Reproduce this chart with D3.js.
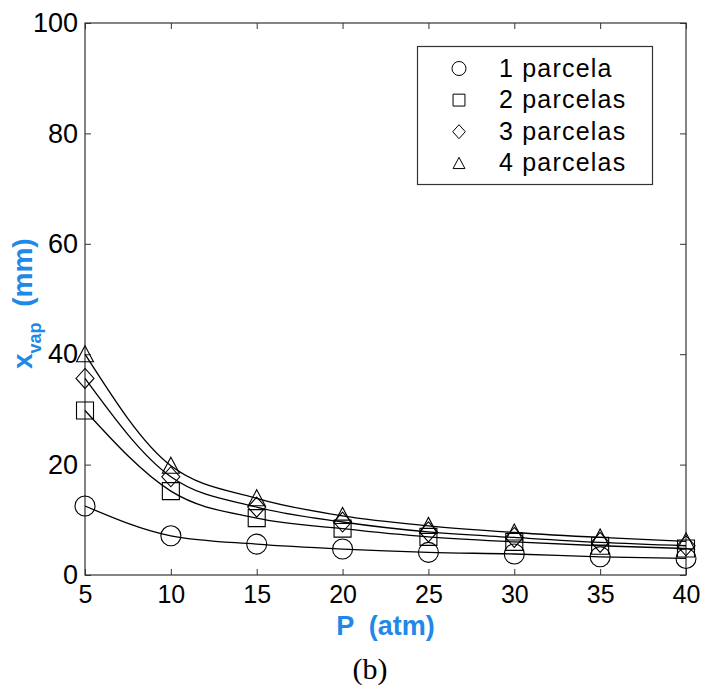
<!DOCTYPE html>
<html>
<head>
<meta charset="utf-8">
<script src="https://cdn.jsdelivr.net/npm/d3@7"></script>
<style>
    body { margin: 0; background: #fff; }
    svg text { font-family: "Liberation Sans", Arial, sans-serif; }
</style>
</head>
<body>
<div id="chart"></div>
<script>
// pressure values (atm)
const pressures = [5, 10, 15, 20, 25, 30, 35, 40];
// x_vap (mm) per number of parcels
const parcela1 = [12.5, 7.1, 5.6, 4.7, 4.1, 3.8, 3.3, 3.0];
const parcela2 = [29.8, 15.2, 10.3, 8.4, 6.9, 6.0, 5.3, 4.8];
const parcela3 = [35.6, 17.8, 12.3, 9.6, 7.8, 6.8, 5.9, 5.3];
const parcela4 = [40.0, 19.8, 13.9, 10.7, 8.9, 7.7, 6.8, 6.1];
const seriesNames = ["1 parcela", "2 parcelas", "3 parcelas", "4 parcelas"];
const markerTypes = ["circle", "square", "diamond", "triangle"];
const xTicks = [5, 10, 15, 20, 25, 30, 35, 40];
const yTicks = [0, 20, 40, 60, 80, 100];

const series = [parcela1, parcela2, parcela3, parcela4].map((vals, i) => ({
    name: seriesNames[i],
    marker: markerTypes[i],
    points: vals.map((v, j) => ({p: pressures[j], x: v}))
}));

const W = 705, H = 688;
const plot = {left: 85, right: 686, top: 23, bottom: 575};
const axisColor = "#333";
const blue = "#2088e8";

const svg = d3.select("#chart").append("svg")
    .attr("width", W)
    .attr("height", H);

const xScale = d3.scaleLinear().domain([5, 40]).range([plot.left, plot.right]);
const yScale = d3.scaleLinear().domain([0, 100]).range([plot.bottom, plot.top]);

// marker shapes, s = half size
function markerPath(type, s) {
    const p = d3.path();
    if (type == "circle") {
        p.moveTo(s, 0);
        p.arc(0, 0, s, 0, 2 * Math.PI);
    } else if (type == "square") {
        p.rect(-s * 0.85, -s * 0.85, s * 1.7, s * 1.7);
    } else if (type == "diamond") {
        p.moveTo(0, -s);
        p.lineTo(s * 0.9, 0);
        p.lineTo(0, s);
        p.lineTo(-s * 0.9, 0);
        p.closePath();
    } else {
        p.moveTo(0, -s * 0.85);
        p.lineTo(s * 0.85, s * 0.75);
        p.lineTo(-s * 0.85, s * 0.75);
        p.closePath();
    }
    return p.toString();
}

// axes with inward ticks on all four sides
svg.append("g")
    .attr("transform", "translate(0," + plot.bottom + ")")
    .call(d3.axisBottom(xScale).tickValues(xTicks).tickSize(-6).tickSizeOuter(0).tickPadding(10))
    .call(g => {
        g.select(".domain").remove();
        g.selectAll("line").attr("stroke", axisColor);
        g.selectAll("text").attr("fill", "#000").style("font-size", "25px");
    });
svg.append("g")
    .attr("transform", "translate(0," + plot.top + ")")
    .call(d3.axisTop(xScale).tickValues(xTicks).tickSize(-6).tickSizeOuter(0).tickFormat(""))
    .call(g => {
        g.select(".domain").remove();
        g.selectAll("line").attr("stroke", axisColor);
    });
svg.append("g")
    .attr("transform", "translate(" + plot.left + ",0)")
    .call(d3.axisLeft(yScale).tickValues(yTicks).tickSize(-6).tickSizeOuter(0).tickPadding(7))
    .call(g => {
        g.select(".domain").remove();
        g.selectAll("line").attr("stroke", axisColor);
        g.selectAll("text").attr("fill", "#000").style("font-size", "27px");
    });
svg.append("g")
    .attr("transform", "translate(" + plot.right + ",0)")
    .call(d3.axisRight(yScale).tickValues(yTicks).tickSize(-6).tickSizeOuter(0).tickFormat(""))
    .call(g => {
        g.select(".domain").remove();
        g.selectAll("line").attr("stroke", axisColor);
    });

svg.append("rect")
    .attr("x", plot.left)
    .attr("y", plot.top)
    .attr("width", plot.right - plot.left)
    .attr("height", plot.bottom - plot.top)
    .attr("fill", "none")
    .attr("stroke", axisColor)
    .attr("stroke-width", 1.2);

// curves
const line = d3.line()
    .x(d => xScale(d.p))
    .y(d => yScale(d.x))
    .curve(d3.curveMonotoneX);

svg.selectAll(".curve")
    .data(series).enter()
    .append("path")
    .attr("class", "curve")
    .attr("d", d => line(d.points))
    .attr("fill", "none")
    .attr("stroke", "#000")
    .attr("stroke-width", 1.3);

// markers
series.forEach(s => {
    svg.selectAll(".m-" + s.marker)
        .data(s.points).enter()
        .append("path")
        .attr("class", "m-" + s.marker)
        .attr("transform", d => "translate(" + xScale(d.p) + "," + yScale(d.x) + ")")
        .attr("d", markerPath(s.marker, 10))
        .attr("fill", "none")
        .attr("stroke", "#000")
        .attr("stroke-width", 1.1);
});

// legend
const legend = svg.append("g");
legend.append("rect")
    .attr("x", 417.5)
    .attr("y", 46.5)
    .attr("width", 235)
    .attr("height", 138)
    .attr("fill", "#fff")
    .attr("stroke", axisColor)
    .attr("stroke-width", 1.2);
const rows = legend.selectAll(".row")
    .data(series).enter()
    .append("g")
    .attr("class", "row")
    .attr("transform", (d, i) => "translate(459," + (68.5 + i * 31.6) + ")");
rows.append("path")
    .attr("d", d => markerPath(d.marker, 7))
    .attr("fill", "none")
    .attr("stroke", "#000")
    .attr("stroke-width", 1);
rows.append("text")
    .attr("x", 40)
    .attr("y", 8)
    .style("font-size", "25px")
    .style("letter-spacing", "1.2px")
    .text(d => d.name);

// axis titles
svg.append("text")
    .attr("x", (plot.left + plot.right) / 2)
    .attr("y", 635)
    .attr("text-anchor", "middle")
    .attr("fill", blue)
    .style("font-size", "27px")
    .style("font-weight", "bold")
    .style("white-space", "pre")
    .text("P  (atm)");

const ylab = svg.append("text")
    .attr("transform", "translate(32,369) rotate(-90)")
    .attr("fill", blue)
    .style("font-size", "28px")
    .style("font-weight", "bold")
    .style("white-space", "pre");
ylab.append("tspan").text("x");
ylab.append("tspan").attr("dy", 9).style("font-size", "18px").text("vap");
ylab.append("tspan").attr("dy", -9).text("  (mm)");

svg.append("text")
    .attr("x", 370)
    .attr("y", 679)
    .attr("text-anchor", "middle")
    .style("font-family", "'Liberation Serif', 'Times New Roman', serif")
    .style("font-size", "30px")
    .text("(b)");
</script>
</body>
</html>
